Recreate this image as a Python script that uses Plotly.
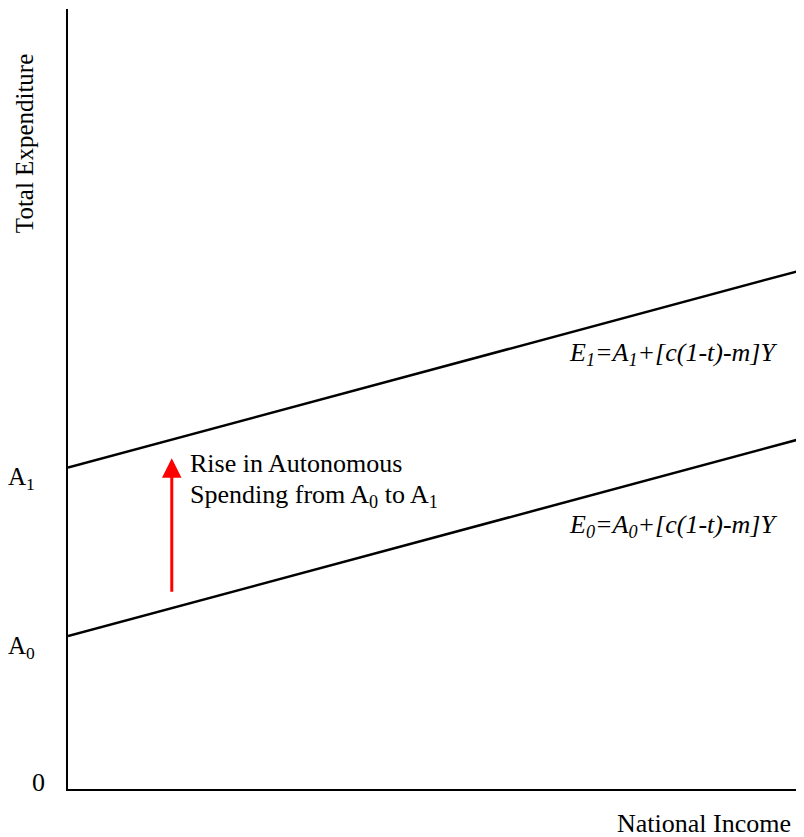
import plotly.graph_objects as go

# Data
A0 = 19.6
A1 = 41.2
slope = 0.254
x_vals = [0, 99.9]
E0_vals = [A0 + slope * x for x in x_vals]
E1_vals = [A1 + slope * x for x in x_vals]
arrow_x = 14.1
arrow_from = 25.1
arrow_to = 42.4

FONT = "Liberation Serif"
FS = 26
BLACK = "black"

fig = go.Figure()
fig.add_trace(go.Scatter(x=x_vals, y=E1_vals, mode="lines",
                         line=dict(color=BLACK, width=2.5), hoverinfo="skip"))
fig.add_trace(go.Scatter(x=x_vals, y=E0_vals, mode="lines",
                         line=dict(color=BLACK, width=2.5), hoverinfo="skip"))

def f(size=FS):
    return dict(family=FONT, size=size, color=BLACK)

ann = []
# arrow
ann.append(dict(x=arrow_x, y=arrow_to, ax=arrow_x, ay=arrow_from, xref="x", yref="y",
                axref="x", ayref="y", showarrow=True, arrowhead=2, arrowsize=1.3,
                arrowwidth=3, arrowcolor="red", text=""))
# arrow label (two lines)
ann.append(dict(x=16.3, y=41.7, xref="x", yref="y", xanchor="left", yanchor="middle",
                showarrow=False, text="Rise in Autonomous", font=f()))
ann.append(dict(x=16.3, y=37.6, xref="x", yref="y", xanchor="left", yanchor="middle",
                showarrow=False,
                text="Spending from A<sub>0</sub> to A<sub>1</sub>", font=f()))
# equation labels
ann.append(dict(x=82.2, y=55.8, xref="x", yref="y", showarrow=False,
                text="<i>E<sub>1</sub>=A<sub>1</sub>+[c(1-t)-m]Y</i>", font=f()))
ann.append(dict(x=82.2, y=33.7, xref="x", yref="y", showarrow=False,
                text="<i>E<sub>0</sub>=A<sub>0</sub>+[c(1-t)-m]Y</i>", font=f()))
# y-axis value labels (paper coordinates, outside the plot area)
ann.append(dict(x=-0.0425, y=0.398, xref="paper", yref="paper", xanchor="right",
                yanchor="middle", showarrow=False, text="A<sub>1</sub>", font=f(25)))
ann.append(dict(x=-0.0425, y=0.182, xref="paper", yref="paper", xanchor="right",
                yanchor="middle", showarrow=False, text="A<sub>0</sub>", font=f(25)))
ann.append(dict(x=-0.0285, y=0.008, xref="paper", yref="paper", xanchor="right",
                yanchor="middle", showarrow=False, text="0", font=f()))
# axis titles
ann.append(dict(x=-0.0598, y=0.828, xref="paper", yref="paper", xanchor="center",
                yanchor="middle", showarrow=False, text="Total Expenditure",
                textangle=-90, font=f(25)))
ann.append(dict(x=0.985, y=-0.0436, xref="paper", yref="paper", xanchor="right",
                yanchor="middle", showarrow=False, text="National Income", font=f()))

fig.update_layout(
    width=796, height=829,
    margin=dict(l=60, r=0, t=1, b=48),
    plot_bgcolor="white", paper_bgcolor="white",
    showlegend=False,
    annotations=ann,
    xaxis=dict(range=[0, 100], showgrid=False, zeroline=False, showticklabels=False,
               ticks="", showline=True, linecolor=BLACK, linewidth=2),
    yaxis=dict(range=[0, 100], showgrid=False, zeroline=False, showticklabels=False,
               ticks="", showline=True, linecolor=BLACK, linewidth=2),
)
fig.write_html("out.html")
